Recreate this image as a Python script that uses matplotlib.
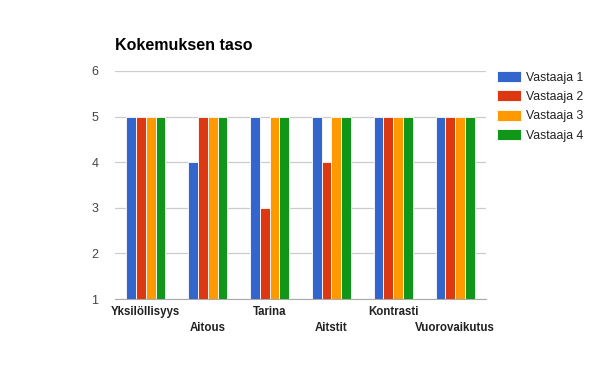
import matplotlib.pyplot as plt
import numpy as np

plt.rcParams['font.family'] = ['Liberation Sans', 'DejaVu Sans']

categories = ['Yksilöllisyys', 'Aitous', 'Tarina', 'Aitstit', 'Kontrasti', 'Vuorovaikutus']
series_names = ['Vastaaja 1', 'Vastaaja 2', 'Vastaaja 3', 'Vastaaja 4']
vastaaja1 = [5, 4, 5, 5, 5, 5]
vastaaja2 = [5, 5, 3, 4, 5, 5]
vastaaja3 = [5, 5, 5, 5, 5, 5]
vastaaja4 = [5, 5, 5, 5, 5, 5]
yticks = [1, 2, 3, 4, 5, 6]

colors = ['#3366CC', '#DC3912', '#FF9900', '#109618']
series = [vastaaja1, vastaaja2, vastaaja3, vastaaja4]

fig = plt.figure(figsize=(6, 3.71), dpi=100)
ax = fig.add_axes([115/600, 1 - 299/371, 371/600, 228/371])

x = np.arange(len(categories))
w = 0.158
base = 1
for i, (vals, c, name) in enumerate(zip(series, colors, series_names)):
    offs = (i - 1.5) * w
    ax.bar(x + offs, np.array(vals) - base, bottom=base, width=w, color=c,
           edgecolor='white', linewidth=0.6, label=name, zorder=3)

ax.set_xlim(-0.5, len(categories) - 0.5)
ax.set_ylim(1, 6)
ax.set_yticks(yticks)
ax.set_yticklabels([str(t) for t in yticks], fontsize=9, color='#444444')
ax.tick_params(axis='y', length=0, pad=12)
ax.tick_params(axis='x', length=0)
ax.yaxis.grid(True, color='#cccccc', linewidth=0.9, zorder=0)
for s in ['top', 'right', 'left']:
    ax.spines[s].set_visible(False)
ax.spines['bottom'].set_color('#aaaaaa')
ax.set_xticks(x)
ax.set_xticklabels([])

# staggered category labels
for i, cat in enumerate(categories):
    dy = -13 if i % 2 == 0 else -29
    ax.annotate(cat, (x[i], 1), xytext=(0, dy), textcoords='offset pixels',
                ha='center', va='center', fontsize=8.3, fontweight='bold', color='#222222',
                annotation_clip=False)

fig.text(115/600, 1 - 45/371, 'Kokemuksen taso', fontsize=11.5, fontweight='bold',
         color='#000000', va='center', ha='left')

leg = fig.legend(loc='upper left', bbox_to_anchor=(492/600, 1 - 66/371), frameon=False,
                 fontsize=8.8, handlelength=1.95, handleheight=1.0, handletextpad=0.45,
                 labelspacing=0.55, borderaxespad=0)
for t in leg.get_texts():
    t.set_color('#222222')

fig.savefig('out.png', dpi=100)
